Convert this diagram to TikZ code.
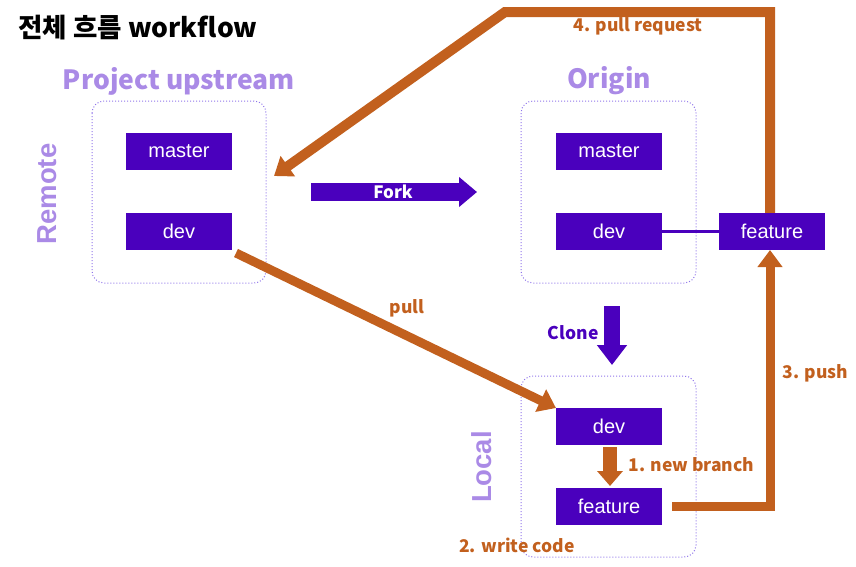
\documentclass[tikz,border=0pt]{standalone}
\usepackage{fontspec}
\usetikzlibrary{arrows.meta,calc}
\newfontfamily\kr{Noto Sans CJK KR}
\newfontfamily\ar{Liberation Sans}
\definecolor{boxpurple}{HTML}{4A00BD}
\definecolor{lightpurple}{HTML}{AA8AE6}
\definecolor{orng}{HTML}{C2601E}
\tikzset{
  x=1pt,y=-1pt,
  branch/.style={fill=boxpurple,text=white,minimum width=106pt,minimum height=37pt,inner sep=0pt,font=\ar\fontsize{20}{22}\selectfont},
  group/.style={draw=lightpurple!85!blue,dotted,line width=1pt,rounded corners=12pt},
  grouptitle/.style={text=lightpurple,font=\kr\bfseries\fontsize{26.5}{30}\selectfont},
  sidelabel/.style={text=lightpurple,font=\ar\bfseries\fontsize{27.5}{30}\selectfont,rotate=90},
  olabel/.style={text=orng,font=\kr\bfseries\fontsize{17.5}{19}\selectfont},
  oarrow/.style={draw=orng,line width=9pt,line join=miter,-{Triangle[width=24pt,length=17pt]}},
}
\begin{document}
\begin{tikzpicture}
\useasboundingbox (0,0) rectangle (856,566);
% title
\node[anchor=west,font=\kr\bfseries\fontsize{26.5}{30}\selectfont] (title) at (15,28) {전체 흐름 workflow};
% groups
\draw[group] (92,101) rectangle (266,283);
\draw[group] (521,101) rectangle (696,283);
\draw[group] (521,376) rectangle (696,557);
\node[grouptitle] (uptitle) at (179,81) {Project upstream};
\node[grouptitle] (orititle) at (609,81) {Origin};
\node[sidelabel] (remote) at (47,194) {Remote};
\node[sidelabel] (local) at (482,467) {Local};
% branches
\node[branch] (upmaster) at (179,151.5) {master};
\node[branch] (updev) at (179,231.5) {dev};
\node[branch] (orimaster) at (609,151.5) {master};
\node[branch] (oridev) at (609,231.5) {dev};
\node[branch] (orifeature) at (772,231.5) {feature};
\node[branch] (locdev) at (609,426.5) {dev};
\node[branch] (locfeature) at (609,506.5) {feature};
\draw[boxpurple,line width=3pt] (oridev.east) -- (orifeature.west);
% fork
\coordinate (forkA) at (311,192);
\coordinate (forkB) at (477,192);
\draw[boxpurple,line width=18pt,-{Triangle[width=29pt,length=18pt]}] (forkA) -- (forkB);
\node[text=white,font=\kr\bfseries\fontsize{17}{18}\selectfont] (forklbl) at (393,192) {Fork};
% clone
\coordinate (cloneA) at (612,306);
\coordinate (cloneB) at (612,365);
\draw[boxpurple,line width=16pt,-{Triangle[width=29pt,length=20pt]}] (cloneA) -- (cloneB);
\node[anchor=east,text=boxpurple,font=\kr\bfseries\fontsize{17.5}{19}\selectfont] (clonelbl) at (602,333) {Clone};
% pull
\coordinate (pullA) at (236,253);
\coordinate (pullB) at (556,408);
\draw[oarrow] (pullA) -- (pullB);
\node[olabel] (pulllbl) at (407,308) {pull};
% new branch
\coordinate (nbA) at (610,447);
\coordinate (nbB) at (610,486);
\draw[draw=orng,line width=14pt,-{Triangle[width=25pt,length=15pt]}] (nbA) -- (nbB);
\node[olabel,anchor=west] (nblbl) at (625,465) {1. new branch};
\node[olabel] (wclbl) at (517,545) {2. write code};
% push
\coordinate (pushA) at (672,506);
\draw[oarrow] (pushA) -- (770,506) -- (770,250);
\node[olabel,anchor=west] (pushlbl) at (779,373) {3. push};
% pull request
\coordinate (prTip) at (274,176);
\draw[oarrow,line width=10pt] (orifeature.north -| 770,0) -- (770,12) -- (505,12) -- (prTip);
\node[olabel] (prlbl) at (638,26) {4. pull request};
\end{tikzpicture}
\end{document}
